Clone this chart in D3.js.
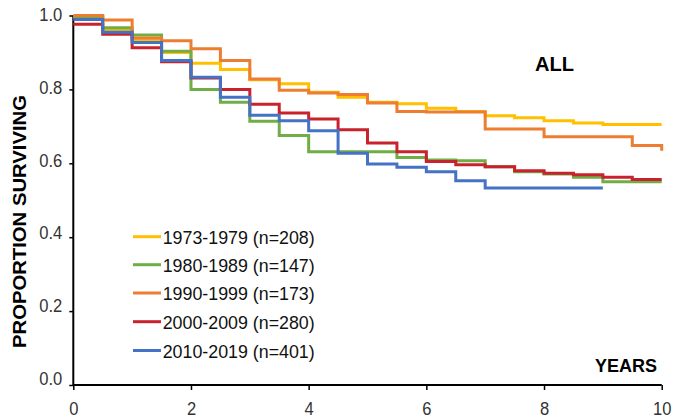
<!DOCTYPE html>
<html>
<head>
<meta charset="utf-8">
<script src="https://cdn.jsdelivr.net/npm/d3@7"></script>
<style>
  html, body { margin: 0; padding: 0; background: #fff; }
  svg { display: block; font-family: "Liberation Sans", Arial, sans-serif; }
</style>
</head>
<body>
<svg id="chart" width="675" height="419"></svg>
<script>
// ---- data ----
const times = [0,0.5,1,1.5,2,2.5,3,3.5,4,4.5,5,5.5,6,6.5,7,7.5,8,8.5,9,9.5,10];
const seriesNames = ["1973-1979 (n=208)","1980-1989 (n=147)","1990-1999 (n=173)","2000-2009 (n=280)","2010-2019 (n=401)"];
const s1973 = [0.997,0.962,0.934,0.900,0.871,0.854,0.826,0.815,0.792,0.779,0.765,0.761,0.749,0.740,0.729,0.723,0.715,0.709,0.705,0.705,0.705];
const s1980 = [0.995,0.967,0.947,0.903,0.800,0.765,0.714,0.675,0.631,0.631,0.631,0.616,0.609,0.607,0.591,0.577,0.571,0.562,0.550,0.550,0.550];
const s1990 = [1.000,0.988,0.939,0.932,0.910,0.878,0.828,0.798,0.790,0.786,0.763,0.740,0.739,0.739,0.693,0.693,0.672,0.672,0.672,0.648,0.634];
const s2000 = [0.976,0.949,0.913,0.875,0.831,0.800,0.760,0.736,0.720,0.691,0.655,0.631,0.605,0.596,0.591,0.580,0.573,0.569,0.562,0.556,0.556];
const s2010 = [0.989,0.955,0.927,0.878,0.833,0.779,0.730,0.715,0.688,0.627,0.598,0.589,0.577,0.553,0.533,0.533,0.533,0.533,0.533];
const xTicks = [0,2,4,6,8,10];
const yTicks = [0,0.2,0.4,0.6,0.8,1.0];
const colors = ["#FFC000","#70AD47","#ED7D31","#C8232C","#4472C4"];

const allSeries = [s1973, s1980, s1990, s2000, s2010];

// ---- scales ----
const svg = d3.select("#chart");
const x = d3.scaleLinear().domain([0,10]).range([73.3,661.7]);
const y = d3.scaleLinear().domain([0,1]).range([385,15.5]);
const yLab = d3.scaleLinear().domain([0,1]).range([378,14]);

function squeeze(sel, f) {
  sel.each(function(){
    const L = this.getComputedTextLength();
    d3.select(this).attr("textLength", L*f).attr("lengthAdjust","spacingAndGlyphs");
  });
}

// ---- axes ----
const gx = svg.append("g").attr("transform", `translate(0,${y(0)})`)
  .call(d3.axisBottom(x).tickValues(xTicks).tickSize(5).tickPadding(0).tickFormat(d3.format("d")));
gx.select(".domain").attr("stroke","#000").attr("stroke-width",2).attr("d", `M${x(0)},0H${x(10)}`);
gx.selectAll(".tick line").attr("stroke","#000").attr("stroke-width",1.5);
gx.selectAll(".tick text").attr("font-size",18).attr("fill","#333").attr("y",null).attr("dy",null)
  .attr("transform","translate(0,29.5)").call(squeeze, 0.92);

const gy = svg.append("g").attr("transform", `translate(${x(0)},0)`)
  .call(d3.axisLeft(y).tickValues(yTicks).tickSize(4).tickPadding(0).tickFormat(d3.format(".1f")));
gy.select(".domain").attr("stroke","#000").attr("stroke-width",2).attr("d", `M0,${y(1)}V${y(0)+1}`);
gy.selectAll(".tick line").attr("stroke","#000").attr("stroke-width",1.5);
gy.selectAll(".tick text").attr("font-size",18).attr("fill","#333").attr("x",-11).attr("dy",null)
  .attr("transform", d => `translate(0,${yLab(d)-y(d)+6.5})`).call(squeeze, 0.92);

// ---- curves ----
const line = d3.line().x((d,i)=>x(times[i])).y(d=>y(d)).curve(d3.curveStepAfter);
allSeries.forEach((s,k) => {
  svg.append("path").datum(s).attr("d", line).attr("fill","none")
    .attr("stroke", colors[k]).attr("stroke-width",3);
});

// ---- legend ----
const leg = svg.append("g");
const legY = [236.7, 264.7, 293, 321.7, 350.5];
seriesNames.forEach((n,k) => {
  leg.append("line").attr("x1",133).attr("x2",161).attr("y1",legY[k]).attr("y2",legY[k])
    .attr("stroke",colors[k]).attr("stroke-width",3);
  leg.append("text").attr("x",162.7).attr("y",legY[k]+7).attr("font-size",19).attr("fill","#111")
    .text(n).attr("textLength",152).attr("lengthAdjust","spacingAndGlyphs");
});

// ---- annotations ----
svg.append("text").attr("x",535).attr("y",71).attr("font-size",20).attr("font-weight","bold")
  .attr("fill","#000").text("ALL").attr("textLength",39).attr("lengthAdjust","spacingAndGlyphs");
svg.append("text").attr("x",657).attr("y",372).attr("text-anchor","end").attr("font-size",17.5)
  .attr("font-weight","bold").attr("fill","#000").text("YEARS")
  .attr("textLength",62).attr("lengthAdjust","spacingAndGlyphs");
svg.append("text").attr("transform","translate(25.7,221.5) rotate(-90)").attr("text-anchor","middle")
  .attr("font-size",19).attr("font-weight","bold").attr("fill","#000").text("PROPORTION SURVIVING")
  .attr("textLength",253).attr("lengthAdjust","spacingAndGlyphs");
</script>
</body>
</html>
